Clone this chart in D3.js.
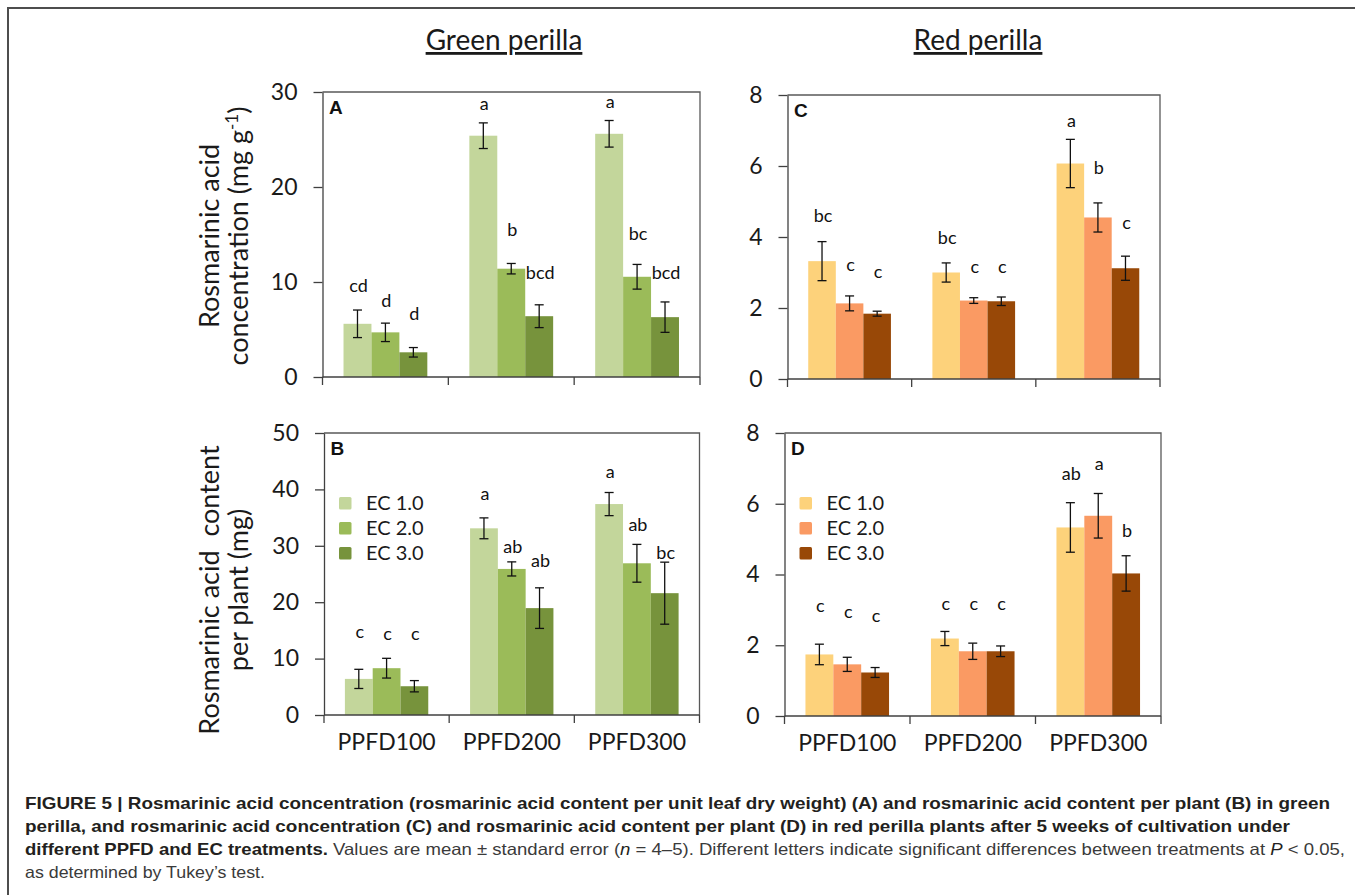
<!DOCTYPE html>
<html>
<head>
<meta charset="utf-8">
<script src="https://cdn.jsdelivr.net/npm/d3@7"></script>
<style>
  body { margin: 0; background: #fff; }
</style>
</head>
<body>
<div id="chart"></div>
<script>
// ── Data ──
const categories = ['PPFD100', 'PPFD200', 'PPFD300'];
const series = ['EC 1.0', 'EC 2.0', 'EC 3.0'];

// A: green perilla, concentration (mg g-1); rows = EC 1.0 / 2.0 / 3.0
const concGreen   = [[5.6, 25.4, 25.6], [4.7, 11.4, 10.55], [2.6, 6.4, 6.3]];
const concGreenSE = [[1.45, 1.35, 1.4], [0.97, 0.55, 1.3], [0.5, 1.2, 1.6]];
const concGreenLetters = [['cd', 'a', 'a'], ['d', 'b', 'bc'], ['d', 'bcd', 'bcd']];
const concGreenLetterAt = [[9.0, 28.1, 28.3], [7.4, 14.8, 14.4], [6.0, 10.3, 10.3]];

// B: green perilla, content per plant (mg)
const plantGreen   = [[6.4, 33.1, 37.4], [8.3, 25.9, 26.9], [5.1, 18.95, 21.6]];
const plantGreenSE = [[1.7, 1.85, 2.05], [1.75, 1.25, 3.35], [1.0, 3.6, 5.5]];
const plantGreenLetters = [['c', 'a', 'a'], ['c', 'ab', 'ab'], ['c', 'ab', 'bc']];
const plantGreenLetterAt = [[13.6, 38.1, 42.0], [13.3, 28.8, 32.6], [13.3, 26.2, 27.7]];

// C: red perilla, concentration (mg g-1)
const concRed   = [[3.32, 3.0, 6.07], [2.13, 2.21, 4.55], [1.84, 2.19, 3.12]];
const concRedSE = [[0.55, 0.27, 0.68], [0.21, 0.08, 0.41], [0.07, 0.12, 0.34]];
const concRedLetters = [['bc', 'bc', 'a'], ['c', 'c', 'b'], ['c', 'c', 'c']];
const concRedLetterAt = [[4.43, 3.8, 7.1], [3.04, 2.98, 5.77], [2.84, 2.98, 4.22]];

// D: red perilla, content per plant (mg)
const plantRed   = [[1.74, 2.19, 5.33], [1.46, 1.83, 5.66], [1.23, 1.83, 4.03]];
const plantRedSE = [[0.29, 0.2, 0.7], [0.2, 0.23, 0.63], [0.14, 0.15, 0.5]];
const plantRedLetters = [['c', 'c', 'ab'], ['c', 'c', 'a'], ['c', 'c', 'b']];
const plantRedLetterAt = [[2.94, 2.99, 6.66], [2.77, 2.99, 6.95], [2.66, 2.99, 5.06]];

const greenTicksA = [0, 10, 20, 30];
const greenTicksB = [0, 10, 20, 30, 40, 50];
const redTicks = [0, 2, 4, 6, 8];

const GREEN = ['#c3d69b', '#9bbb59', '#77933c'];
const RED = ['#fdd27b', '#fa9a63', '#984807'];

const FONT = "Lato, 'Open Sans', sans-serif";
const AXIS_COLOR = '#404040';

const W = 1355, H = 895;
const svg = d3.select('#chart').append('svg')
    .attr('width', W).attr('height', H)
    .attr('viewBox', [0, 0, W, H])
    .style('font-family', FONT);

svg.append('rect').attr('width', W).attr('height', H).attr('fill', '#fff');

// outer figure frame (top + left only)
svg.append('path')
    .attr('d', `M8,${H}V8H${W}`)
    .attr('fill', 'none')
    .attr('stroke', '#4d4d4d')
    .attr('stroke-width', 2);

// ── Panel ──
function drawPanel(p) {
    const x = d3.scaleBand().domain(categories).range([p.x0, p.x1]);
    const bw = x.bandwidth();
    const xs = d3.scaleBand().domain(series).range([bw * 0.167, bw * 0.833]);
    const y = d3.scaleLinear().domain([0, d3.max(p.ticks)]).range([p.y1, p.y0]);
    const g = svg.append('g');

    // bars
    series.forEach((s, si) => {
        g.append('g').selectAll('rect')
            .data(categories)
            .join('rect')
            .attr('x', c => x(c) + xs(s))
            .attr('width', xs.bandwidth())
            .attr('y', (c, i) => y(p.values[si][i]))
            .attr('height', (c, i) => y(0) - y(p.values[si][i]))
            .attr('fill', p.colors[si]);
    });

    // plot frame (top and right)
    g.append('path')
        .attr('d', `M${p.x0},${p.y0}H${p.x1}V${p.y1}`)
        .attr('fill', 'none')
        .attr('stroke', '#595959')
        .attr('stroke-width', 1.3);

    // error bars + letters
    series.forEach((s, si) => {
        categories.forEach((c, i) => {
            const cx = x(c) + xs(s) + xs.bandwidth() / 2;
            const v = p.values[si][i], e = p.se[si][i];
            const eg = g.append('g').attr('stroke', '#111').attr('stroke-width', 1.3);
            eg.append('line').attr('x1', cx).attr('x2', cx).attr('y1', y(v + e)).attr('y2', y(v - e));
            eg.append('line').attr('x1', cx - 4.5).attr('x2', cx + 4.5).attr('y1', y(v + e)).attr('y2', y(v + e));
            eg.append('line').attr('x1', cx - 4.5).attr('x2', cx + 4.5).attr('y1', y(v - e)).attr('y2', y(v - e));

            g.append('text')
                .attr('x', cx + 1)
                .attr('y', y(p.letterAt[si][i]))
                .attr('text-anchor', 'middle')
                .attr('font-size', '18px')
                .attr('fill', '#111')
                .text(p.letters[si][i]);
        });
    });

    // y axis
    const ya = g.append('g')
        .attr('transform', `translate(${p.x0},0)`)
        .call(d3.axisLeft(y).tickValues(p.ticks).tickSize(9).tickSizeOuter(0).tickPadding(16));
    ya.select('.domain').attr('stroke', AXIS_COLOR).attr('stroke-width', 1.3);
    ya.selectAll('.tick line').attr('stroke', AXIS_COLOR).attr('stroke-width', 1.3);
    ya.selectAll('text').attr('font-size', '23px').attr('font-family', FONT).attr('fill', '#1a1a1a');

    // x axis line + boundary ticks
    g.append('line')
        .attr('x1', p.x0).attr('x2', p.x1).attr('y1', p.y1).attr('y2', p.y1)
        .attr('stroke', AXIS_COLOR).attr('stroke-width', 1.3);
    const bounds = categories.map(c => x(c)).concat([p.x1]);
    g.append('g').selectAll('line')
        .data(bounds)
        .join('line')
        .attr('x1', d => d).attr('x2', d => d)
        .attr('y1', p.y1).attr('y2', p.y1 + 8)
        .attr('stroke', AXIS_COLOR).attr('stroke-width', 1.3);

    if (p.showCats) {
        const xa = g.append('g')
            .attr('transform', `translate(0,${p.y1})`)
            .call(d3.axisBottom(x).tickSize(0).tickPadding(19));
        xa.select('.domain').remove();
        xa.selectAll('text').attr('font-size', '23px').attr('font-family', FONT).attr('fill', '#1a1a1a');
    }

    // panel letter
    g.append('text')
        .attr('x', p.x0 + 6.5)
        .attr('y', p.y0 + 22)
        .attr('font-family', "'Liberation Sans', Arial, sans-serif")
        .attr('font-weight', 'bold')
        .attr('font-size', '19px')
        .attr('fill', '#111')
        .text(p.label);

    // legend
    if (p.legend) {
        const lg = g.append('g').attr('transform', `translate(${p.x0 + 15},${p.y0 + 64})`);
        series.forEach((s, si) => {
            const row = lg.append('g').attr('transform', `translate(0,${si * 25})`);
            row.append('rect')
                .attr('width', 12.5).attr('height', 12.5)
                .attr('rx', 1.5)
                .attr('fill', p.colors[si]);
            row.append('text')
                .attr('x', 27).attr('y', 12.5)
                .attr('font-size', '20px')
                .attr('fill', '#1a1a1a')
                .text(s);
        });
    }

    // y title
    if (p.ytitle) {
        const t = g.append('text')
            .attr('transform', `translate(0,${p.ytitleY}) rotate(-90)`)
            .attr('text-anchor', 'middle')
            .attr('font-size', '27px')
            .attr('fill', '#1a1a1a')
            .style('white-space', 'pre');
        t.append('tspan').attr('x', 0).attr('y', 219).text(p.ytitle[0]);
        const l2 = t.append('tspan').attr('x', 0).attr('y', 248);
        p.ytitle[1](l2);
    }
}

drawPanel({
    label: 'A', x0: 322.5, x1: 700, y0: 92, y1: 377,
    ticks: greenTicksA, values: concGreen, se: concGreenSE,
    letters: concGreenLetters, letterAt: concGreenLetterAt,
    colors: GREEN, showCats: false, legend: false,
    ytitle: ['Rosmarinic acid', el => {
        el.append('tspan').text('concentration (mg g');
        el.append('tspan').attr('baseline-shift', 'super').attr('font-size', '17px').text('-1');
        el.append('tspan').text(')');
    }],
    ytitleY: 236
});

drawPanel({
    label: 'B', x0: 324, x1: 699.5, y0: 433, y1: 715,
    ticks: greenTicksB, values: plantGreen, se: plantGreenSE,
    letters: plantGreenLetters, letterAt: plantGreenLetterAt,
    colors: GREEN, showCats: true, legend: true,
    ytitle: ['Rosmarinic acid  content', el => el.text('per plant (mg)')],
    ytitleY: 590
});

drawPanel({
    label: 'C', x0: 787.5, x1: 1160, y0: 95, y1: 379,
    ticks: redTicks, values: concRed, se: concRedSE,
    letters: concRedLetters, letterAt: concRedLetterAt,
    colors: RED, showCats: false, legend: false
});

drawPanel({
    label: 'D', x0: 784.5, x1: 1161, y0: 433, y1: 716,
    ticks: redTicks, values: plantRed, se: plantRedSE,
    letters: plantRedLetters, letterAt: plantRedLetterAt,
    colors: RED, showCats: true, legend: true
});

// ── Column titles ──
[['Green perilla', 504], ['Red perilla', 978]].forEach(([t, cx]) => {
    svg.append('text')
        .attr('x', cx).attr('y', 50)
        .attr('text-anchor', 'middle')
        .attr('font-size', '28px')
        .attr('fill', '#1a1a1a')
        .style('text-decoration', 'underline')
        .text(t);
});

// ── Caption ──
const CAP_FONT = "'Liberation Sans', Arial, sans-serif";
const capLines = [
    { y: 809, len: 1305, parts: [['b', 'FIGURE 5 | Rosmarinic acid concentration (rosmarinic acid content per unit leaf dry weight) (A) and rosmarinic acid content per plant (B) in green']] },
    { y: 832, len: 1265, parts: [['b', 'perilla, and rosmarinic acid concentration (C) and rosmarinic acid content per plant (D) in red perilla plants after 5 weeks of cultivation under']] },
    { y: 855, len: 1320, parts: [
        ['b', 'different PPFD and EC treatments.'],
        ['r', ' Values are mean \u00b1 standard error ('], ['i', 'n'],
        ['r', ' = 4\u20135). Different letters indicate significant differences between treatments at '],
        ['i', 'P'], ['r', ' < 0.05,']
    ] },
    { y: 878, len: 240, parts: [['r', 'as determined by Tukey\u2019s test.']] }
];
capLines.forEach(line => {
    const t = svg.append('text')
        .attr('x', 25).attr('y', line.y)
        .attr('font-family', CAP_FONT)
        .attr('font-size', '16.5px')
        .attr('fill', '#231f20')
        .attr('textLength', line.len)
        .attr('lengthAdjust', 'spacingAndGlyphs')
        .style('white-space', 'pre');
    line.parts.forEach(([kind, txt]) => {
        const s = t.append('tspan').text(txt);
        if (kind === 'b') s.attr('font-weight', 'bold');
        if (kind === 'i') s.attr('font-style', 'italic').attr('fill', '#231f20');
        if (kind === 'r') s.attr('fill', '#3a3a3a');
    });
});
</script>
</body>
</html>
